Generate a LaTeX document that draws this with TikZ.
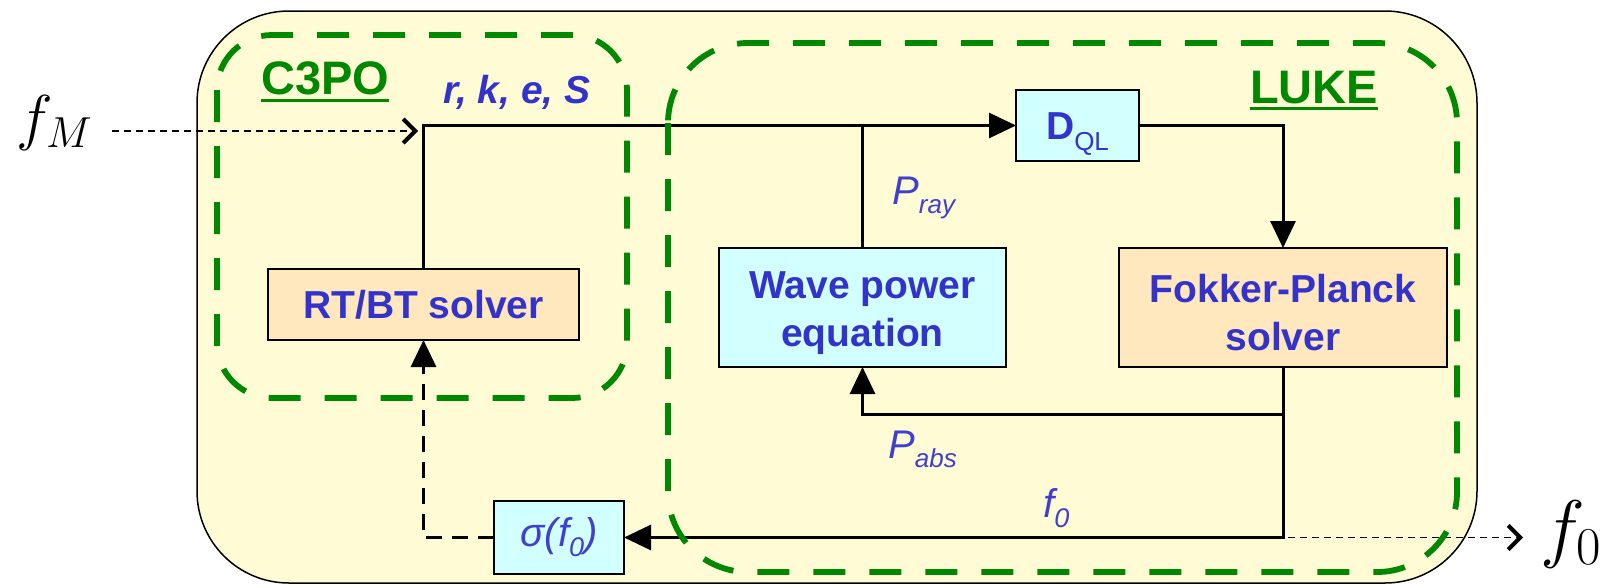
\RequirePackage{fix-cm}
\documentclass[tikz,border=0pt]{standalone}
\usepackage{fontspec}
\newfontfamily\arial{Liberation Sans}
\usetikzlibrary{arrows.meta}
\definecolor{bgyellow}{RGB}{255,252,213}
\definecolor{grn}{RGB}{0,136,0}
\definecolor{boxcyan}{RGB}{210,255,255}
\definecolor{boxpeach}{RGB}{255,231,190}
\definecolor{txtblue}{RGB}{51,51,204}
\definecolor{lblblue}{RGB}{64,64,208}
\tikzset{
  procbox/.style={draw=black, line width=2pt, inner sep=0pt, outer sep=0pt, align=center,
    font=\arial\bfseries\fontsize{39}{48}\selectfont, text=txtblue},
  cyanbox/.style={procbox, fill=boxcyan},
  peachbox/.style={procbox, fill=boxpeach},
  conn/.style={line width=3pt, draw=black},
  tip/.style={-{Triangle[length=27pt,width=25pt]}},
  dashconn/.style={conn, dash pattern=on 16pt off 10pt},
  thindash/.style={line width=1.3pt, dash pattern=on 7pt off 5pt,
    -{Straight Barb[length=12pt,width=24pt,line width=4pt]}},
  module/.style={draw=grn, line width=5.8pt, dash pattern=on 32pt off 24pt},
  modlabel/.style={font=\arial\bfseries\fontsize{47}{47}\selectfont, text=grn, inner sep=0pt, anchor=base west},
  lbl/.style={font=\arial\itshape\fontsize{40}{40}\selectfont, text=lblblue, inner sep=0pt, anchor=base west},
  mathlbl/.style={inner sep=0pt, anchor=base west}
}
\newcommand{\lowstrut}{\rule{0pt}{39pt}}
\begin{document}
\begin{tikzpicture}[x=1pt,y=-1pt]
\useasboundingbox (0,0) rectangle (1609,584);
\fill[white] (0,0) rectangle (1609,584);
% outer frame
\draw[fill=bgyellow, line width=1.5pt, rounded corners=92pt] (197,11) rectangle (1477,583);

% boxes
\node[peachbox, minimum width=311pt, minimum height=71pt] (rtbt) at (423.5,304.5) {RT/BT solver};
\node[cyanbox, minimum width=287pt, minimum height=119pt] (wave) at (862.5,307.5) {\lowstrut Wave power\\equation};
\node[peachbox, minimum width=328pt, minimum height=119pt] (fp) at (1283,307.5) {\lowstrut Fokker-Planck\\solver};
\node[cyanbox, minimum width=123pt, minimum height=71pt, text height=28pt, text depth=0pt] (dql) at (1077.5,125.5)
  {D{\mdseries\fontsize{26}{26}\selectfont\raisebox{-10.5pt}{QL}}};
\node[cyanbox, minimum width=130pt, minimum height=73pt, font=\arial\itshape\fontsize{40}{40}\selectfont, text=lblblue] (sigma) at (559,537.5)
  {σ(f\raisebox{-10pt}{\fontsize{27}{27}\selectfont 0})};

% labels
\node[modlabel] (c3po) at (261,94) {C3PO};
\draw[grn, line width=3pt] ([yshift=-6pt]c3po.base west) -- ([yshift=-6pt]c3po.base east);
\node[modlabel] (luke) at (1250,103) {LUKE};
\draw[grn, line width=3pt] ([yshift=-5pt]luke.base west) -- ([yshift=-5pt]luke.base east);
\node[lbl, font=\arial\bfseries\itshape\fontsize{39}{39}\selectfont, text=txtblue] (rkes) at (443,103) {r, k, e, S};
\node[lbl] (pray) at (892,204) {P\raisebox{-9pt}{\fontsize{26}{26}\selectfont ray}};
\node[lbl] (pabsl) at (888,458) {P\raisebox{-9pt}{\fontsize{26}{26}\selectfont abs}};
\node[lbl] (f0l) at (1043,517) {f\raisebox{-10pt}{\fontsize{27}{27}\selectfont 0}};

% outer math labels
\node[mathlbl, font=\fontsize{62}{62}\selectfont] (fM) at (16,138) {$f_M$};
\node[mathlbl, font=\fontsize{76}{76}\selectfont] (f0) at (1540,553) {$f_0$};
\coordinate (fMend) at (418,131);
\coordinate (pabs) at (fp.south |- 0,414);
\coordinate (fcorner) at (fp.south |- sigma.east);

% connectors
\draw[conn, tip] (rtbt.north) |- (dql.west);
\draw[conn] (wave.north) -- (wave.north |- dql.west);
\draw[conn, tip] (dql.east) -| (fp.north);
\draw[conn, tip] (fp.south) |- (sigma.east);
\draw[conn, tip] (pabs) -| (wave.south);
\draw[dashconn, tip] (sigma.west) -| (rtbt.south);
\draw[thindash] ([xshift=20pt]fM.east |- fMend) -- (fMend);
\draw[thindash] ([xshift=5pt]fcorner) -- ([xshift=-17pt]f0.west |- fcorner);

% code modules
\draw[module, rounded corners=55pt] (217,35) rectangle (627,398);
\draw[module, rounded corners=80pt] (668,43) rectangle (1457,572);
\end{tikzpicture}
\end{document}
